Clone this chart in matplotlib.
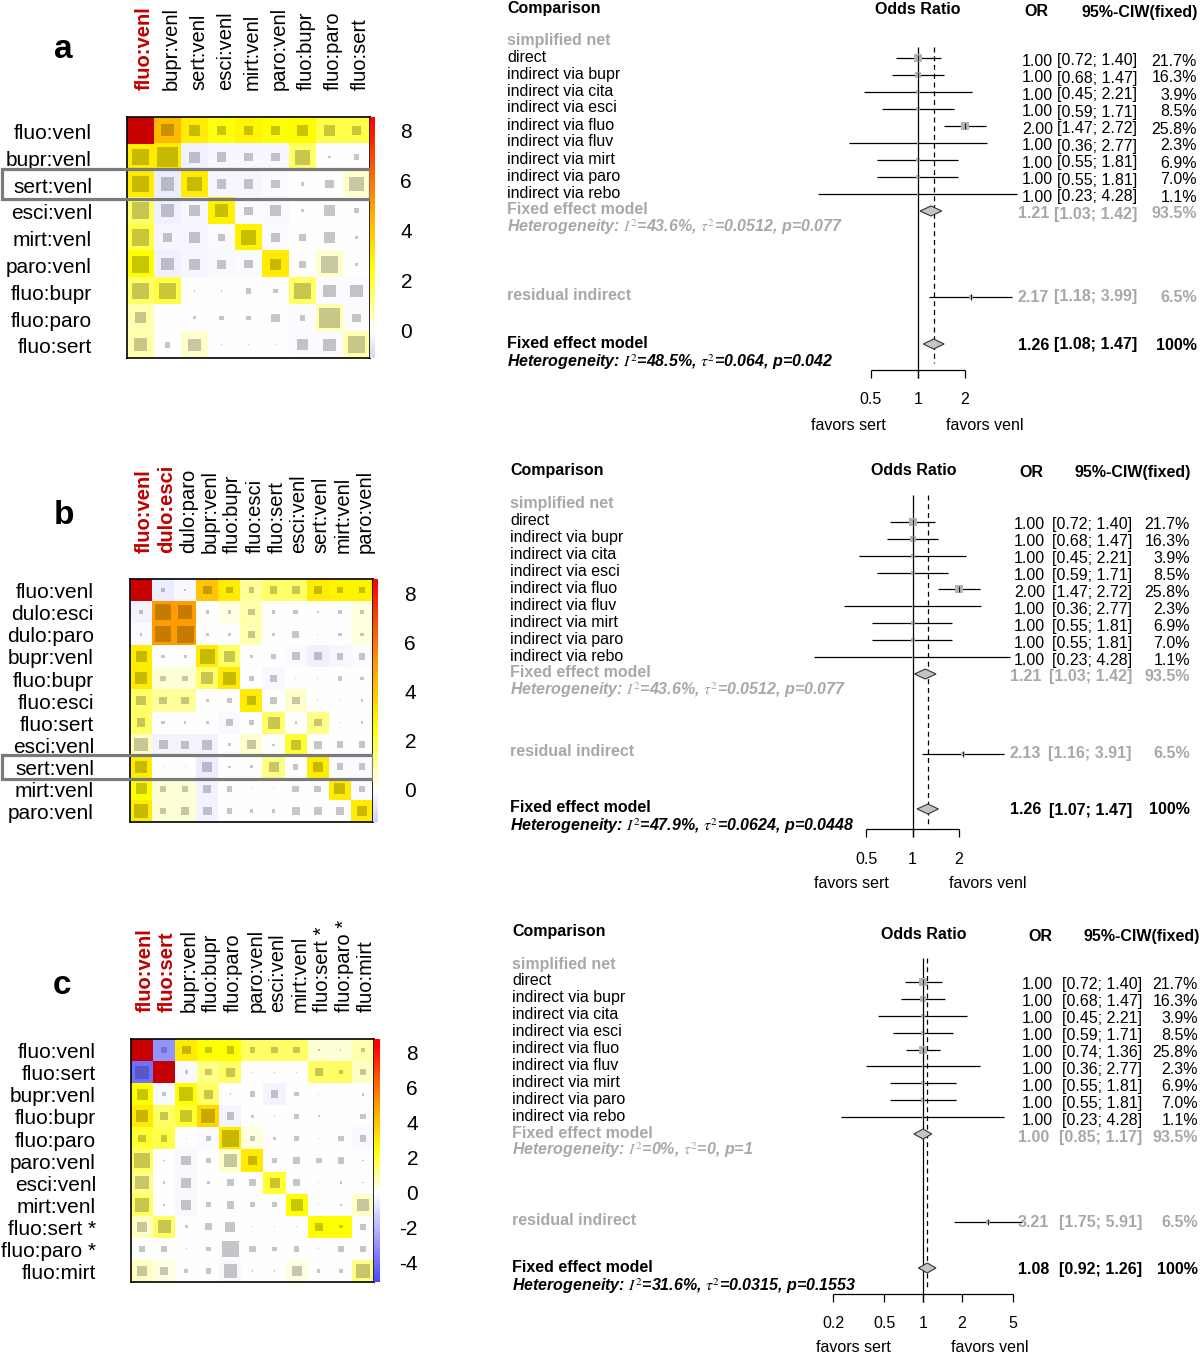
import numpy as np
import matplotlib
matplotlib.use("Agg")
import matplotlib.pyplot as plt
from matplotlib.colors import LinearSegmentedColormap, Normalize
from matplotlib.patches import Rectangle
from matplotlib.transforms import blended_transform_factory

plt.rcParams["mathtext.fontset"] = "stix"

W, H = 1200, 1353
ARIAL = ["Liberation Sans", "DejaVu Sans"]
GREY = "#a8a8a8"
RED = "#c00000"
FS = 11.5

# ---------------- net heat plots ----------------
A_LABELS = ["fluo:venl", "bupr:venl", "sert:venl", "esci:venl", "mirt:venl",
            "paro:venl", "fluo:bupr", "fluo:paro", "fluo:sert"]
A_HEAT = [
    [8.5, 4.3, 3.0, 2.4, 2.7, 2.5, 2.6, 1.8, 1.8],
    [3.0, 3.0, -0.35, -0.2, -0.2, -0.2, 1.5, 0.0, 0.0],
    [3.0, -0.5, 3.0, -0.25, -0.25, -0.1, 0.0, 0.0, 0.5],
    [1.5, -0.4, -0.2, 2.8, -0.1, -0.15, 0.0, 0.0, 0.0],
    [1.8, -0.25, -0.25, -0.1, 2.8, -0.1, 0.0, 0.0, 0.0],
    [2.5, -0.4, -0.25, -0.15, -0.1, 3.0, 0.0, 0.5, 0.0],
    [1.5, 1.8, 0.0, 0.0, 0.0, 0.0, 1.5, -0.1, -0.1],
    [0.8, 0.0, 0.0, 0.0, 0.0, 0.0, -0.05, 0.8, -0.05],
    [0.8, 0.0, 0.5, 0.0, 0.0, 0.0, -0.1, -0.1, 0.8],
]
A_SIZE = [
    [1.0, 0.45, 0.4, 0.35, 0.35, 0.35, 0.4, 0.4, 0.35],
    [0.6, 0.75, 0.4, 0.35, 0.3, 0.3, 0.55, 0.08, 0.2],
    [0.6, 0.5, 0.55, 0.35, 0.35, 0.3, 0.12, 0.3, 0.55],
    [0.65, 0.5, 0.4, 0.5, 0.3, 0.4, 0.12, 0.4, 0.18],
    [0.65, 0.35, 0.4, 0.28, 0.55, 0.35, 0.25, 0.4, 0.12],
    [0.65, 0.45, 0.4, 0.35, 0.3, 0.4, 0.25, 0.65, 0.12],
    [0.6, 0.6, 0.06, 0.06, 0.22, 0.18, 0.6, 0.45, 0.45],
    [0.4, 0.02, 0.1, 0.15, 0.15, 0.3, 0.22, 0.75, 0.3],
    [0.5, 0.22, 0.45, 0.05, 0.05, 0.05, 0.4, 0.45, 0.65],
]
A_CB_LIM = (-1.12, 8.56)
A_CB_TICKS = [0, 2, 4, 6, 8]

B_LABELS = ["fluo:venl", "dulo:esci", "dulo:paro", "bupr:venl", "fluo:bupr", "fluo:esci",
            "fluo:sert", "esci:venl", "sert:venl", "mirt:venl", "paro:venl"]
B_HEAT = [
    [8.5, -0.5, -0.15, 4.0, 3.0, 1.0, 1.5, 1.5, 3.0, 2.8, 2.8],
    [-0.3, 5.0, 5.0, 0.0, 0.3, 0.8, 0.0, 0.0, 0.0, 0.0, 0.3],
    [-0.1, 5.0, 5.0, 0.0, 0.0, 0.8, 0.0, 0.0, 0.0, 0.0, 0.3],
    [3.0, 0.0, 0.0, 3.0, 1.5, 0.0, 0.0, -0.1, -0.4, -0.2, -0.1],
    [3.0, 0.4, 0.4, 1.5, 3.0, 0.0, -0.2, 0.0, 0.0, 0.0, 0.0],
    [1.5, 1.0, 1.0, 0.0, 0.0, 3.0, 0.0, 0.5, 0.0, 0.0, 0.0],
    [1.5, 0.0, 0.0, 0.0, -0.15, 0.0, 1.5, 0.0, 1.2, 0.0, 0.0],
    [0.6, -0.3, -0.3, -0.3, 0.0, 0.5, 0.0, 2.0, 0.0, 0.0, 0.0],
    [3.0, 0.0, 0.0, -0.5, 0.0, 0.0, 1.2, 0.0, 3.0, -0.1, -0.1],
    [2.5, 0.4, 0.4, -0.3, 0.0, 0.0, 0.0, 0.0, 0.0, 3.0, -0.1],
    [3.0, 0.4, 0.4, -0.3, 0.0, 0.0, 0.0, 0.0, 0.0, 0.0, 3.0],
]
B_SIZE = [
    [1.0, 0.2, 0.1, 0.4, 0.3, 0.25, 0.35, 0.35, 0.35, 0.3, 0.3],
    [0.2, 0.75, 0.65, 0.15, 0.15, 0.3, 0.15, 0.2, 0.1, 0.15, 0.15],
    [0.12, 0.7, 0.75, 0.15, 0.15, 0.3, 0.15, 0.3, 0.03, 0.15, 0.15],
    [0.5, 0.15, 0.15, 0.7, 0.5, 0.15, 0.2, 0.35, 0.35, 0.3, 0.3],
    [0.55, 0.25, 0.25, 0.55, 0.6, 0.25, 0.35, 0.05, 0.05, 0.2, 0.15],
    [0.45, 0.35, 0.35, 0.15, 0.25, 0.45, 0.3, 0.35, 0.05, 0.05, 0.1],
    [0.4, 0.15, 0.1, 0.15, 0.3, 0.25, 0.55, 0.1, 0.35, 0.05, 0.1],
    [0.6, 0.4, 0.35, 0.45, 0.12, 0.4, 0.1, 0.45, 0.35, 0.3, 0.3],
    [0.55, 0.05, 0.05, 0.45, 0.1, 0.15, 0.45, 0.25, 0.45, 0.3, 0.3],
    [0.5, 0.25, 0.25, 0.35, 0.25, 0.05, 0.05, 0.3, 0.3, 0.5, 0.3],
    [0.65, 0.3, 0.35, 0.4, 0.25, 0.15, 0.15, 0.35, 0.35, 0.35, 0.45],
]
B_CB_LIM = (-1.30, 8.57)
B_CB_TICKS = [0, 2, 4, 6, 8]

C_LABELS = ["fluo:venl", "fluo:sert", "bupr:venl", "fluo:bupr", "fluo:paro", "paro:venl",
            "esci:venl", "mirt:venl", "fluo:sert *", "fluo:paro *", "fluo:mirt"]
C_HEAT = [
    [8.5, -3.0, 3.0, 2.5, 2.5, 1.5, 1.5, 1.5, 0.4, 0.4, 0.8],
    [-4.0, 8.5, -0.2, 1.2, 1.5, 0.0, 0.0, 0.0, 1.5, 1.5, 0.6],
    [2.5, -0.2, 2.5, 1.5, 0.0, 0.0, -0.3, 0.0, 0.0, 0.0, 0.0],
    [3.0, 1.5, 2.0, 3.5, -0.3, 0.0, 0.0, 0.0, 0.0, 0.0, 0.0],
    [2.0, 1.8, 0.0, -0.1, 3.0, 0.3, 0.0, 0.0, 0.0, 0.0, -0.2],
    [1.5, 0.0, -0.2, 0.0, 0.5, 3.0, 0.0, 0.0, 0.0, 0.0, 0.0],
    [1.2, 0.0, -0.2, 0.0, 0.0, 0.0, 2.0, 0.0, 0.0, 0.0, 0.0],
    [1.5, 0.0, -0.2, 0.0, 0.0, 0.0, 0.0, 2.5, 0.0, 0.0, 0.5],
    [0.6, 1.5, 0.0, 0.0, 0.0, 0.0, 0.0, 0.0, 2.5, 2.5, 0.0],
    [0.0, 0.0, 0.0, 0.0, -0.05, 0.0, 0.0, 0.0, 0.0, 0.0, 0.0],
    [0.6, 0.3, 0.0, 0.0, -0.2, 0.0, 0.0, 0.3, 0.0, 0.0, 1.2],
]
C_SIZE = [
    [1.0, 0.3, 0.4, 0.3, 0.35, 0.25, 0.3, 0.3, 0.1, 0.05, 0.2],
    [0.6, 1.0, 0.15, 0.3, 0.4, 0.05, 0.05, 0.05, 0.35, 0.15, 0.25],
    [0.5, 0.2, 0.65, 0.4, 0.08, 0.25, 0.35, 0.2, 0.05, 0.03, 0.12],
    [0.55, 0.35, 0.55, 0.65, 0.35, 0.12, 0.05, 0.2, 0.1, 0.02, 0.25],
    [0.35, 0.3, 0.05, 0.25, 0.75, 0.25, 0.1, 0.2, 0.05, 0.25, 0.3],
    [0.7, 0.08, 0.45, 0.2, 0.6, 0.4, 0.25, 0.3, 0.25, 0.3, 0.05],
    [0.6, 0.12, 0.45, 0.15, 0.35, 0.3, 0.45, 0.3, 0.03, 0.1, 0.05],
    [0.65, 0.08, 0.45, 0.25, 0.35, 0.25, 0.25, 0.55, 0.05, 0.1, 0.55],
    [0.45, 0.6, 0.15, 0.3, 0.45, 0.05, 0.05, 0.05, 0.35, 0.15, 0.25],
    [0.3, 0.3, 0.05, 0.2, 0.75, 0.3, 0.2, 0.25, 0.05, 0.3, 0.3],
    [0.45, 0.35, 0.2, 0.25, 0.6, 0.05, 0.05, 0.45, 0.15, 0.15, 0.6],
]
C_CB_LIM = (-5.09, 8.8)
C_CB_TICKS = [-4, -2, 0, 2, 4, 6, 8]

# colour ramp (value -> colour) of the heat plots
RAMP_V = [-5.0, 0.0, 1.0, 2.5, 4.5, 6.0, 8.5]
RAMP_C = [(0.3, 0.3, 1.0), (1, 1, 1), (1, 1, 0.6), (1, 1, 0), (1, 0.7, 0), (1, 0.45, 0), (1, 0, 0)]

# ---------------- forest plots ----------------
PATHS = ["direct", "indirect via bupr", "indirect via cita", "indirect via esci", "indirect via fluo",
         "indirect via fluv", "indirect via mirt", "indirect via paro", "indirect via rebo"]
A_OR = [1.00, 1.00, 1.00, 1.00, 2.00, 1.00, 1.00, 1.00, 1.00]
A_LO = [0.72, 0.68, 0.45, 0.59, 1.47, 0.36, 0.55, 0.55, 0.23]
A_HI = [1.40, 1.47, 2.21, 1.71, 2.72, 2.77, 1.81, 1.81, 4.28]
A_W = [21.7, 16.3, 3.9, 8.5, 25.8, 2.3, 6.9, 7.0, 1.1]
A_SIMPLE = [1.21, 1.03, 1.42, 93.5]
A_HET_SIMPLE = [43.6, 0.0512, 0.077]
A_RESID = [2.17, 1.18, 3.99, 6.5]
A_TOTAL = [1.26, 1.08, 1.47, 100]
A_HET_TOTAL = [48.5, 0.064, 0.042]

B_OR = [1.00, 1.00, 1.00, 1.00, 2.00, 1.00, 1.00, 1.00, 1.00]
B_LO = [0.72, 0.68, 0.45, 0.59, 1.47, 0.36, 0.55, 0.55, 0.23]
B_HI = [1.40, 1.47, 2.21, 1.71, 2.72, 2.77, 1.81, 1.81, 4.28]
B_W = [21.7, 16.3, 3.9, 8.5, 25.8, 2.3, 6.9, 7.0, 1.1]
B_SIMPLE = [1.21, 1.03, 1.42, 93.5]
B_HET_SIMPLE = [43.6, 0.0512, 0.077]
B_RESID = [2.13, 1.16, 3.91, 6.5]
B_TOTAL = [1.26, 1.07, 1.47, 100]
B_HET_TOTAL = [47.9, 0.0624, 0.0448]

C_OR = [1.00, 1.00, 1.00, 1.00, 1.00, 1.00, 1.00, 1.00, 1.00]
C_LO = [0.72, 0.68, 0.45, 0.59, 0.74, 0.36, 0.55, 0.55, 0.23]
C_HI = [1.40, 1.47, 2.21, 1.71, 1.36, 2.77, 1.81, 1.81, 4.28]
C_W = [21.7, 16.3, 3.9, 8.5, 25.8, 2.3, 6.9, 7.0, 1.1]
C_SIMPLE = [1.00, 0.85, 1.17, 93.5]
C_HET_SIMPLE = [0, 0, 1]
C_RESID = [3.21, 1.75, 5.91, 6.5]
C_TOTAL = [1.08, 0.92, 1.26, 100]
C_HET_TOTAL = [31.6, 0.0315, 0.1553]

# ---------------- layout (pixels) ----------------
HEAT_LAYOUT = [
    dict(tag="a", box=(127, 117, 370, 358), cbar=(370, 375), col_bottom=90, row_right=92,
         letter=(63, 50), hl_row=2, cb_right=412),
    dict(tag="b", box=(130, 579, 373, 822), cbar=(373, 378), col_bottom=553, row_right=94,
         letter=(64, 516), hl_row=8, cb_right=416),
    dict(tag="c", box=(131, 1039, 374, 1282), cbar=(374, 380), col_bottom=1012, row_right=96,
         letter=(62, 985), hl_row=None, cb_right=418),
]
FOREST_LAYOUT = [
    dict(top=0, bottom=440, ticks=[0.5, 1, 2], tick_px=(871, 965), y0=40, dy=17, resid_y=295,
         total_y=343, het2_y=362, axis_y=370, lab_y=400, fav_y=425, line_top=47, dash_bottom=363,
         label_x=507, hdr_y=(8, 10, 12), odds_x=918, or_x=1036, ciw_x=1140,
         num_right=(1053, 1137, 1197), fav_px=(848, 985)),
    dict(top=455, bottom=900, ticks=[0.5, 1, 2], tick_px=(866, 959), y0=504, dy=16.9, resid_y=752,
         total_y=808, het2_y=826, axis_y=829, lab_y=859, fav_y=884, line_top=495, dash_bottom=824,
         label_x=510, hdr_y=(471, 471, 473), odds_x=914, or_x=1031, ciw_x=1133,
         num_right=(1045, 1132, 1190), fav_px=(851, 988)),
    dict(top=915, bottom=1353, ticks=[0.2, 0.5, 1, 2, 5], tick_px=(833, 1013), y0=964, dy=16.9,
         resid_y=1220, total_y=1267, het2_y=1286, axis_y=1294, lab_y=1323, fav_y=1347,
         line_top=958, dash_bottom=1288, label_x=512, hdr_y=(931, 934, 936), odds_x=924,
         or_x=1040, ciw_x=1142, num_right=(1053, 1142, 1198), fav_px=(853, 990)),
]

fig = plt.figure(figsize=(W / 100, H / 100), dpi=100)


def fx(px):
    return px / W


def fy(py):
    return 1 - py / H


def make_cmap(vmin, vmax):
    vs = np.array(RAMP_V)
    cs = np.array(RAMP_C, dtype=float)

    def at(v):
        return tuple(np.interp(v, vs, cs[:, k]) for k in range(3))

    pts = [(vmin, at(vmin))] + [(v, tuple(c)) for v, c in zip(vs, cs) if vmin < v < vmax] + [(vmax, at(vmax))]
    return LinearSegmentedColormap.from_list("heat", [((v - vmin) / (vmax - vmin), c) for v, c in pts])


def draw_heat(L, labels, heat, size, n_bold, cb_lim, cb_ticks):
    x0, y0, x1, y1 = L["box"]
    n = len(labels)
    heat = np.array(heat)
    size = np.array(size)
    cmap = make_cmap(*cb_lim)
    norm = Normalize(*cb_lim)

    ax = fig.add_axes([fx(x0), fy(y1), (x1 - x0) / W, (y1 - y0) / H])
    ax.imshow(heat, cmap=cmap, norm=norm, aspect="auto", interpolation="nearest")
    # grey squares: darker shade of the cell colour
    for i in range(n):
        for j in range(n):
            s = size[i, j]
            col = np.array(cmap(norm(heat[i, j]))[:3]) * 0.78
            ax.add_patch(Rectangle((j - s / 2, i - s / 2), s, s, color=col, lw=0))
    ax.set_xlim(-0.5, n - 0.5)
    ax.set_ylim(n - 0.5, -0.5)
    ax.set_xticks([])
    ax.set_yticks([])
    for sp in ax.spines.values():
        sp.set_linewidth(1.2)

    tr_col = blended_transform_factory(ax.transData, fig.transFigure)
    tr_row = blended_transform_factory(fig.transFigure, ax.transData)
    for k, lab in enumerate(labels):
        hl = k < n_bold
        ax.text(k + 0.15, fy(L["col_bottom"]), lab, rotation=90, ha="center", va="bottom",
                transform=tr_col, fontsize=14.5, family=ARIAL,
                color=RED if hl else "black", fontweight="bold" if hl else "normal")
        ax.text(fx(L["row_right"]), k + 0.12, lab, ha="right", va="center",
                transform=tr_row, fontsize=15, family=ARIAL)

    if L["hl_row"] is not None:
        r = L["hl_row"]
        ax.add_patch(Rectangle((fx(2), r - 0.55), fx(x1) - fx(2), 1.1, transform=tr_row,
                               fill=False, ec="#7a7a7a", lw=2.3, clip_on=False, zorder=5))

    cx0, cx1 = L["cbar"]
    cax = fig.add_axes([fx(cx0), fy(y1), (cx1 - cx0) / W, (y1 - y0) / H])
    cax.imshow(np.linspace(cb_lim[1], cb_lim[0], 300)[:, None], cmap=cmap, norm=norm,
               aspect="auto", extent=(0, 1, cb_lim[0], cb_lim[1]))
    cax.set_ylim(*cb_lim)
    cax.set_xticks([])
    cax.yaxis.tick_right()
    cax.set_yticks(cb_ticks, labels=[str(t) for t in cb_ticks], ha="right", fontsize=15, family=ARIAL)
    cax.tick_params(axis="y", length=0, pad=(L["cb_right"] - cx1) * 0.72)
    for sp in cax.spines.values():
        sp.set_visible(False)

    fig.text(fx(L["letter"][0]), fy(L["letter"][1]), L["tag"], fontsize=24, fontweight="bold",
             ha="center", va="center", family=ARIAL)


def het_text(vals):
    i2, t2, p = vals
    return rf"Heterogeneity: $I^2$={i2:g}%, $\tau^2$={t2:g}, p={p:g}"


def draw_forest(L, ors, los, his, ws, simple, het_simple, resid, total, het_total):
    tp = L["tick_px"]
    ticks = L["ticks"]
    top, bottom = L["top"], L["bottom"]
    ax = fig.add_axes([fx(tp[0]), fy(bottom), (tp[1] - tp[0]) / W, (bottom - top) / H])
    ax.set_xscale("log")
    ax.set_xlim(ticks[0], ticks[-1])
    ax.set_ylim(bottom, top)
    ax.axis("off")
    tr = blended_transform_factory(fig.transFigure, ax.transData)

    def txt(px, py, s, **kw):
        kw.setdefault("fontsize", FS)
        kw.setdefault("family", ARIAL)
        kw.setdefault("va", "center")
        ax.text(fx(px), py, s, transform=tr, **kw)

    def numbers(py, est, lo, hi, w, **kw):
        r0, r1, r2 = L["num_right"]
        if kw.get("fontweight") == "bold":
            r0 -= 4
        txt(r0, py, f"{est:.2f}", ha="right", **kw)
        txt(r1, py, f"[{lo:.2f}; {hi:.2f}]", ha="right", **kw)
        txt(r2, py, "100%" if w == 100 else f"{w:.1f}%", ha="right", **kw)

    def point(est, lo, hi, w, py):
        ax.hlines(py, lo, hi, color="black", lw=0.9, clip_on=False, zorder=2)
        side = 8.5 * np.sqrt(w / 25.8) * 0.72
        ax.scatter([est], [py], marker="s", s=side ** 2, color="#b3b3b3", lw=0, clip_on=False, zorder=3)
        ax.scatter([est], [py], marker="|", s=14, color="#222222", lw=0.8, clip_on=False, zorder=4)

    def diamond(est, lo, hi, py):
        ax.fill([lo, est, hi, est], [py, py - 5, py, py + 5], fc="#c4c4c4", ec="#333333",
                lw=0.8, clip_on=False, zorder=3)

    lx = L["label_x"]
    hy = L["hdr_y"]
    txt(lx, hy[0], "Comparison", fontweight="bold")
    txt(L["odds_x"], hy[1], "Odds Ratio", fontweight="bold", ha="center")
    txt(L["or_x"], hy[2], "OR", fontweight="bold", ha="center")
    txt(L["ciw_x"], hy[2], "95%-CIW(fixed)", fontweight="bold", ha="center")

    y0, dy = L["y0"], L["dy"]
    txt(lx, y0, "simplified net", color=GREY, fontweight="bold")
    for i, name in enumerate(PATHS):
        ry = y0 + (i + 1) * dy
        txt(lx, ry, name)
        point(ors[i], los[i], his[i], ws[i], ry + 1)
        numbers(ry + 4, ors[i], los[i], his[i], ws[i])
    ry = y0 + 10 * dy
    txt(lx, ry, "Fixed effect model", color=GREY, fontweight="bold")
    diamond(simple[0], simple[1], simple[2], ry + 1)
    numbers(ry + 4, *simple, color=GREY, fontweight="bold")
    txt(lx, y0 + 11 * dy, het_text(het_simple), color=GREY, fontweight="bold", style="italic")

    ry = L["resid_y"]
    txt(lx, ry, "residual indirect", color=GREY, fontweight="bold")
    point(resid[0], resid[1], resid[2], resid[3], ry + 2)
    numbers(ry + 2, *resid, color=GREY, fontweight="bold")

    ry = L["total_y"]
    txt(lx, ry, "Fixed effect model", fontweight="bold")
    diamond(total[0], total[1], total[2], ry + 1)
    numbers(ry + 2, *total, fontweight="bold")
    txt(lx, L["het2_y"], het_text(het_total), fontweight="bold", style="italic")

    # reference lines
    ay = L["axis_y"]
    ax.vlines(1, L["line_top"], ay + 8, color="black", lw=0.9, clip_on=False, zorder=1)
    ax.vlines(total[0], L["line_top"], L["dash_bottom"], color="black", lw=0.9,
              linestyles=(0, (4, 3)), clip_on=False, zorder=1)

    # axis
    ax.hlines(ay, ticks[0], ticks[-1], color="black", lw=0.9, clip_on=False)
    ax.vlines(ticks, ay, ay + 8, color="black", lw=0.9, clip_on=False)
    for t in ticks:
        ax.text(t, L["lab_y"], f"{t:g}", ha="center", va="center", fontsize=FS, family=ARIAL)
    txt(L["fav_px"][0], L["fav_y"], "favors sert", ha="center")
    txt(L["fav_px"][1], L["fav_y"], "favors venl", ha="center")


draw_heat(HEAT_LAYOUT[0], A_LABELS, A_HEAT, A_SIZE, 1, A_CB_LIM, A_CB_TICKS)
draw_heat(HEAT_LAYOUT[1], B_LABELS, B_HEAT, B_SIZE, 2, B_CB_LIM, B_CB_TICKS)
draw_heat(HEAT_LAYOUT[2], C_LABELS, C_HEAT, C_SIZE, 2, C_CB_LIM, C_CB_TICKS)

draw_forest(FOREST_LAYOUT[0], A_OR, A_LO, A_HI, A_W, A_SIMPLE, A_HET_SIMPLE, A_RESID, A_TOTAL, A_HET_TOTAL)
draw_forest(FOREST_LAYOUT[1], B_OR, B_LO, B_HI, B_W, B_SIMPLE, B_HET_SIMPLE, B_RESID, B_TOTAL, B_HET_TOTAL)
draw_forest(FOREST_LAYOUT[2], C_OR, C_LO, C_HI, C_W, C_SIMPLE, C_HET_SIMPLE, C_RESID, C_TOTAL, C_HET_TOTAL)

fig.savefig("out.png", dpi=100)
